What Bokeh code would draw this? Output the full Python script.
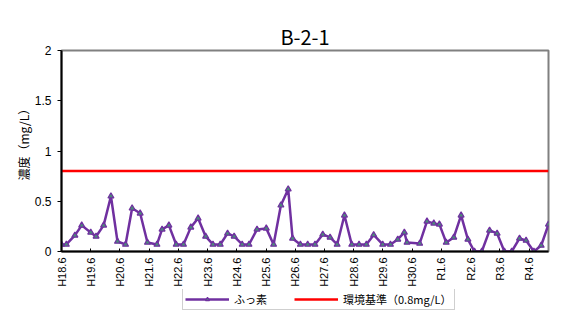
import math
from bokeh.plotting import figure
from bokeh.layouts import column
from bokeh.models import Range1d, FixedTicker, Legend, LegendItem, Title
from bokeh.embed import file_html
from bokeh.resources import INLINE

# ---- data (months since H18.6) ----
months = [0, 2, 5.5, 8.3, 12, 14.2, 17.3, 20.3, 23, 26.3,
          29, 32.3, 35.3, 39.2, 41.3, 44.1, 47.1, 50.1, 53.1, 56.1,
          59.2, 62.2, 65.2, 68.2, 70.9, 74.2, 77, 80.3, 84.1, 87.1,
          90.1, 93.1, 94.9, 98.1, 101.1, 104.1, 107.3, 110.3, 113.2, 116.2,
          119.2, 122.2, 125.2, 128.2, 131.9, 135.1, 138.1, 140.8, 141.9, 147.1,
          150.1, 152.9, 155.2, 158, 161.1, 164.1, 166.9, 169.6, 172.6, 175.8,
          178.9, 181.9, 184.9, 188.1, 190.8, 194, 197, 200]
fluoride = [0.07, 0.07, 0.16, 0.26, 0.19, 0.15, 0.26, 0.55, 0.10, 0.07,
            0.43, 0.38, 0.09, 0.07, 0.22, 0.26, 0.07, 0.07, 0.24, 0.33,
            0.15, 0.07, 0.07, 0.18, 0.15, 0.07, 0.07, 0.22, 0.23, 0.07,
            0.46, 0.62, 0.13, 0.07, 0.07, 0.07, 0.17, 0.14, 0.07, 0.36,
            0.07, 0.07, 0.07, 0.165, 0.07, 0.07, 0.12, 0.19, 0.09, 0.08,
            0.30, 0.28, 0.27, 0.09, 0.14, 0.36, 0.12, 0.0, 0.0, 0.21,
            0.18, 0.0, 0.0, 0.13, 0.11, 0.0, 0.06, 0.27]
standard = 0.8

tick_months = [0, 12, 24, 36, 48, 60, 72, 84, 96, 108, 120, 132, 144, 156, 168, 180, 192]
tick_labels = ["H18.6", "H19.6", "H20.6", "H21.6", "H22.6", "H23.6", "H24.6", "H25.6",
               "H26.6", "H27.6", "H28.6", "H29.6", "H30.6", "R1.6", "R2.6", "R3.6", "R4.6"]
y_ticks = [0, 0.5, 1, 1.5, 2]
y_tick_labels = ["0", "0.5", "1", "1.5", "2"]

series_name = "ふっ素"
standard_name = "環境基準（0.8mg/L）"
y_title = "濃度（mg/L）"
chart_title = "B-2-1"

JP = "Noto Sans CJK JP"
NUM = "Liberation Sans"
PURPLE = "#7030A0"
MARKER_FILL = "#4a8a78"
RED = "#FF0000"

# ---------------- main chart ----------------
p = figure(width=571, height=289, output_backend="svg", toolbar_location=None,
           x_range=Range1d(0, 200), y_range=Range1d(0, 2),
           min_border_left=61, min_border_right=23, min_border_top=50, min_border_bottom=36,
           title=chart_title)

p.title.text_font = JP
p.title.text_font_size = "20px"
p.title.text_font_style = "normal"
p.title.align = "center"
p.title.standoff = 0
p.title.text_color = "#000000"

p.xgrid.visible = False
p.ygrid.visible = False
p.outline_line_color = "#808080"
p.outline_line_width = 2

xa = p.xaxis[0]
xa.ticker = FixedTicker(ticks=tick_months)
xa.major_label_overrides = {m: l for m, l in zip(tick_months, tick_labels)}
xa.major_label_orientation = math.pi / 2
xa.major_tick_in = 3
xa.major_tick_out = 0
xa.minor_tick_line_color = None
xa.axis_line_width = 2
xa.axis_line_color = "#000000"
xa.major_tick_line_color = "#000000"
xa.major_label_text_font = NUM
xa.major_label_text_font_size = "11px"
xa.major_label_text_color = "#000000"
xa.major_label_standoff = 6

ya = p.yaxis[0]
ya.ticker = FixedTicker(ticks=y_ticks)
ya.major_label_overrides = {t: l for t, l in zip(y_ticks, y_tick_labels)}
ya.major_tick_in = 0
ya.major_tick_out = 4
ya.minor_tick_line_color = None
ya.axis_line_width = 2
ya.axis_line_color = "#000000"
ya.major_tick_line_color = "#000000"
ya.major_label_text_font = NUM
ya.major_label_text_font_size = "12px"
ya.major_label_text_color = "#000000"
ya.major_label_standoff = 6

p.add_layout(Title(text=y_title, align="left", offset=71, standoff=0,
                   text_font=JP, text_font_size="12px", text_font_style="normal",
                   text_color="#000000"), "left")

r_std = p.line([months[0], months[-1]], [standard, standard], line_color=RED, line_width=2.5)
r_line = p.line(months, fluoride, line_color=PURPLE, line_width=2.5)
r_pts = p.scatter(months, fluoride, marker="triangle", size=6, line_color=PURPLE,
                  fill_color=MARKER_FILL, line_width=1.2)

# ---------------- legend strip (series drawn out of view, only legend shows) ----------------
lg = figure(width=571, height=22, output_backend="svg", toolbar_location=None,
            x_range=Range1d(-20, -10), y_range=Range1d(10, 20),
            min_border=0, x_axis_type=None, y_axis_type=None)
lg.outline_line_color = None
lg.xgrid.visible = False
lg.ygrid.visible = False
l_line = lg.line(months, fluoride, line_color=PURPLE, line_width=2.5)
l_pts = lg.scatter(months, fluoride, marker="triangle", size=6, line_color=PURPLE,
                   fill_color=MARKER_FILL, line_width=1.2)
l_std = lg.line([months[0], months[-1]], [standard, standard], line_color=RED, line_width=2.5)

legend = Legend(items=[LegendItem(label=series_name, renderers=[l_line, l_pts]),
                       LegendItem(label=standard_name, renderers=[l_std])],
                orientation="horizontal", location=(121, 1),
                glyph_width=44, glyph_height=10, label_height=10, padding=2,
                spacing=27, label_standoff=5, margin=0,
                border_line_color="#a0a0a0", border_line_width=1,
                background_fill_color="#ffffff", background_fill_alpha=1,
                label_text_font=JP, label_text_font_size="11px", label_text_color="#000000")
lg.add_layout(legend)

layout = column(p, lg, spacing=0)
open("out.html", "w").write(file_html(layout, INLINE))
